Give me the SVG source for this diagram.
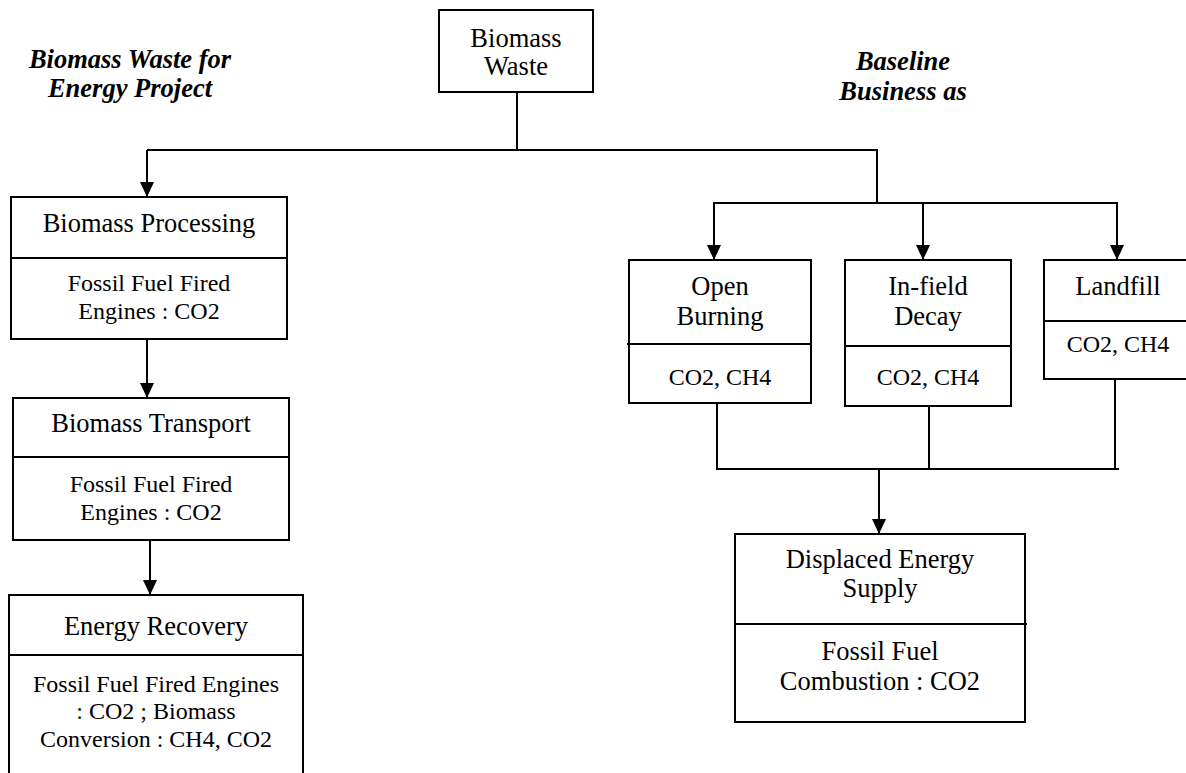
<svg xmlns="http://www.w3.org/2000/svg" width="1186" height="773" viewBox="0 0 1186 773">
<style>
.box{fill:#fff;stroke:#000;stroke-width:2}
.div{stroke:#000;stroke-width:2}
.h{font-family:"Liberation Serif","Times New Roman",serif;font-size:26.5px;text-anchor:middle;fill:#000}
.s{font-family:"Liberation Serif","Times New Roman",serif;font-size:24px;text-anchor:middle;fill:#000}
.t{font-family:"Liberation Serif","Times New Roman",serif;font-size:26.5px;font-weight:bold;font-style:italic;text-anchor:middle;fill:#000}
.c{fill:none;stroke:#000;stroke-width:2}
</style>
<defs>
<marker id="arr" markerUnits="userSpaceOnUse" markerWidth="15" markerHeight="14" refX="15" refY="7" orient="auto">
<path d="M0,0 L15,7 L0,14 z" fill="#000"/>
</marker>
</defs>
<rect width="1186" height="773" fill="#fff"/>
<g id="titles">
<text class="t" x="130" y="68">Biomass Waste for</text>
<text class="t" x="130" y="97">Energy Project</text>
<text class="t" x="903" y="70">Baseline</text>
<text class="t" x="903" y="100">Business as</text>
</g>
<g id="connectors">
<path class="c" d="M517,92 V150"/>
<path class="c" d="M147,150 H877 V204"/>
<path class="c" d="M147,150 V197" marker-end="url(#arr)"/>
<path class="c" d="M713,203 H1118"/>
<path class="c" d="M714,203 V260" marker-end="url(#arr)"/>
<path class="c" d="M923,203 V260" marker-end="url(#arr)"/>
<path class="c" d="M1117,203 V260" marker-end="url(#arr)"/>
<path class="c" d="M147,339 V398" marker-end="url(#arr)"/>
<path class="c" d="M150,540 V595" marker-end="url(#arr)"/>
<path class="c" d="M717,403 V469 H1119"/>
<path class="c" d="M929,406 V469"/>
<path class="c" d="M1115,379 V469"/>
<path class="c" d="M879,469 V534" marker-end="url(#arr)"/>
</g>
<g id="biomass-waste">
<rect class="box" x="439" y="10" width="154" height="82"/>
<text class="h" x="516" y="47">Biomass</text>
<text class="h" x="516" y="75">Waste</text>
</g>
<g id="biomass-processing">
<rect class="box" x="11" y="197" width="276" height="142"/>
<line class="div" x1="11" y1="258" x2="287" y2="258"/>
<text class="h" x="149" y="232">Biomass Processing</text>
<text class="s" x="149" y="291">Fossil Fuel Fired</text>
<text class="s" x="149" y="319">Engines : CO2</text>
</g>
<g id="biomass-transport">
<rect class="box" x="13" y="398" width="276" height="142"/>
<line class="div" x1="13" y1="457" x2="289" y2="457"/>
<text class="h" x="151" y="432">Biomass Transport</text>
<text class="s" x="151" y="492">Fossil Fuel Fired</text>
<text class="s" x="151" y="520">Engines : CO2</text>
</g>
<g id="energy-recovery">
<rect class="box" x="9" y="595" width="294" height="190"/>
<line class="div" x1="9" y1="655" x2="303" y2="655"/>
<text class="h" x="156" y="635">Energy Recovery</text>
<text class="s" x="156" y="692">Fossil Fuel Fired Engines</text>
<text class="s" x="156" y="719">: CO2 ; Biomass</text>
<text class="s" x="156" y="747">Conversion : CH4, CO2</text>
</g>
<g id="open-burning">
<rect class="box" x="629" y="260" width="182" height="143"/>
<line class="div" x1="627" y1="344" x2="811" y2="344"/>
<text class="h" x="720" y="295">Open</text>
<text class="h" x="720" y="325">Burning</text>
<text class="s" x="720" y="385">CO2, CH4</text>
</g>
<g id="in-field-decay">
<rect class="box" x="845" y="260" width="166" height="146"/>
<line class="div" x1="845" y1="346" x2="1011" y2="346"/>
<text class="h" x="928" y="295">In-field</text>
<text class="h" x="928" y="325">Decay</text>
<text class="s" x="928" y="385">CO2, CH4</text>
</g>
<g id="landfill">
<rect class="box" x="1044" y="260" width="150" height="119"/>
<line class="div" x1="1044" y1="321" x2="1194" y2="321"/>
<text class="h" x="1118" y="295">Landfill</text>
<text class="s" x="1118" y="352">CO2, CH4</text>
</g>
<g id="displaced-energy">
<rect class="box" x="735" y="534" width="290" height="188"/>
<line class="div" x1="735" y1="624" x2="1027" y2="624"/>
<text class="h" x="880" y="568">Displaced Energy</text>
<text class="h" x="880" y="597">Supply</text>
<text class="h" x="880" y="660">Fossil Fuel</text>
<text class="h" x="880" y="690">Combustion : CO2</text>
</g>
</svg>
